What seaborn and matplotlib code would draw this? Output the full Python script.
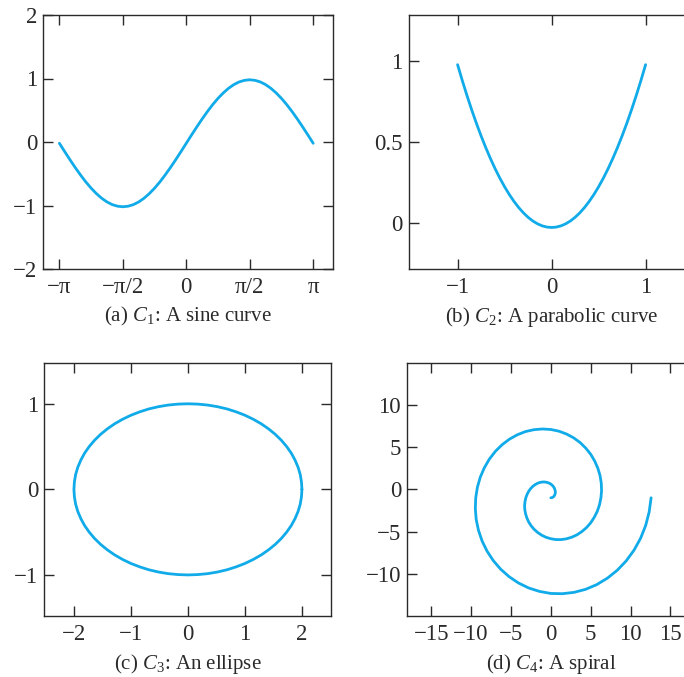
import numpy as np
import matplotlib
matplotlib.use("Agg")
import matplotlib.pyplot as plt
import seaborn as sns

# ---- data ----
# (a) sine curve
sine_x = [-3.142, -3.011, -2.880, -2.749, -2.618, -2.487, -2.356, -2.225, -2.094, -1.963,
          -1.833, -1.702, -1.571, -1.440, -1.309, -1.178, -1.047, -0.916, -0.785, -0.654,
          -0.524, -0.393, -0.262, -0.131, 0.0, 0.131, 0.262, 0.393, 0.524, 0.654,
          0.785, 0.916, 1.047, 1.178, 1.309, 1.440, 1.571, 1.702, 1.833, 1.963,
          2.094, 2.225, 2.356, 2.487, 2.618, 2.749, 2.880, 3.011, 3.142]
sine_y = [-0.020, -0.151, -0.279, -0.403, -0.520, -0.629, -0.727, -0.813, -0.886, -0.944,
          -0.986, -1.011, -1.020, -1.011, -0.986, -0.944, -0.886, -0.813, -0.727, -0.629,
          -0.520, -0.403, -0.279, -0.151, -0.020, 0.111, 0.239, 0.363, 0.480, 0.589,
          0.687, 0.773, 0.846, 0.904, 0.946, 0.971, 0.980, 0.971, 0.946, 0.904,
          0.846, 0.773, 0.687, 0.589, 0.480, 0.363, 0.239, 0.111, -0.020]

# (b) parabolic curve
para_x = [-1.0, -0.95, -0.9, -0.85, -0.8, -0.75, -0.7, -0.65, -0.6, -0.55, -0.5,
          -0.45, -0.4, -0.35, -0.3, -0.25, -0.2, -0.15, -0.1, -0.05, 0.0,
          0.05, 0.1, 0.15, 0.2, 0.25, 0.3, 0.35, 0.4, 0.45, 0.5,
          0.55, 0.6, 0.65, 0.7, 0.75, 0.8, 0.85, 0.9, 0.95, 1.0]
para_y = [0.975, 0.8775, 0.785, 0.6975, 0.615, 0.5375, 0.465, 0.3975, 0.335, 0.2775, 0.225,
          0.1775, 0.135, 0.0975, 0.065, 0.0375, 0.015, -0.0025, -0.015, -0.0225, -0.025,
          -0.0225, -0.015, -0.0025, 0.015, 0.0375, 0.065, 0.0975, 0.135, 0.1775, 0.225,
          0.2775, 0.335, 0.3975, 0.465, 0.5375, 0.615, 0.6975, 0.785, 0.8775, 0.975]

# (c) ellipse
ell_x = [2.000, 1.992, 1.970, 1.932, 1.879, 1.813, 1.732, 1.638, 1.532, 1.414,
         1.286, 1.147, 1.000, 0.845, 0.684, 0.518, 0.347, 0.174, 0.000,
         -0.174, -0.347, -0.518, -0.684, -0.845, -1.000, -1.147, -1.286, -1.414,
         -1.532, -1.638, -1.732, -1.813, -1.879, -1.932, -1.970, -1.992, -2.000,
         -1.992, -1.970, -1.932, -1.879, -1.813, -1.732, -1.638, -1.532, -1.414,
         -1.286, -1.147, -1.000, -0.845, -0.684, -0.518, -0.347, -0.174, 0.000,
         0.174, 0.347, 0.518, 0.684, 0.845, 1.000, 1.147, 1.286, 1.414,
         1.532, 1.638, 1.732, 1.813, 1.879, 1.932, 1.970, 1.992, 2.000]
ell_y = [0.000, 0.087, 0.174, 0.259, 0.342, 0.423, 0.500, 0.574, 0.643, 0.707,
         0.766, 0.819, 0.866, 0.906, 0.940, 0.966, 0.985, 0.996, 1.000,
         0.996, 0.985, 0.966, 0.940, 0.906, 0.866, 0.819, 0.766, 0.707,
         0.643, 0.574, 0.500, 0.423, 0.342, 0.259, 0.174, 0.087, 0.000,
         -0.087, -0.174, -0.259, -0.342, -0.423, -0.500, -0.574, -0.643, -0.707,
         -0.766, -0.819, -0.866, -0.906, -0.940, -0.966, -0.985, -0.996, -1.000,
         -0.996, -0.985, -0.966, -0.940, -0.906, -0.866, -0.819, -0.766, -0.707,
         -0.643, -0.574, -0.500, -0.423, -0.342, -0.259, -0.174, -0.087, 0.000]

# (d) spiral
spiral_x = [0.00, 0.13, 0.25, 0.36, 0.45, 0.52, 0.56, 0.56, 0.52, 0.45, 0.34, 0.19,
            0.00, -0.22, -0.47, -0.75, -1.05, -1.35, -1.67, -1.97, -2.27, -2.54, -2.78, -2.98,
            -3.14, -3.24, -3.29, -3.27, -3.17, -3.01, -2.78, -2.47, -2.09, -1.65, -1.15, -0.60,
            0.00, 0.63, 1.29, 1.95, 2.62, 3.27, 3.89, 4.47, 4.99, 5.44, 5.82, 6.10,
            6.28, 6.36, 6.32, 6.17, 5.89, 5.50, 5.00, 4.38, 3.67, 2.86, 1.97, 1.01,
            0.00, -1.04, -2.10, -3.16, -4.19, -5.18, -6.11, -6.96, -7.71, -8.34, -8.85, -9.21,
            -9.42, -9.47, -9.36, -9.07, -8.62, -8.00, -7.22, -6.30, -5.24, -4.06, -2.78, -1.42,
            0.00, 1.45, 2.91, 4.36, 5.76, 7.09, 8.33, 9.45, 10.43, 11.25, 11.89, 12.33,
            12.57]
spiral_y = [-1.00, -0.98, -0.93, -0.85, -0.73, -0.59, -0.43, -0.25, -0.07, 0.12, 0.30, 0.47,
            0.62, 0.74, 0.82, 0.87, 0.87, 0.82, 0.72, 0.56, 0.35, 0.08, -0.23, -0.60,
            -1.00, -1.44, -1.91, -2.39, -2.89, -3.38, -3.86, -4.32, -4.74, -5.11, -5.43, -5.68,
            -5.85, -5.95, -5.95, -5.86, -5.67, -5.39, -5.00, -4.53, -3.97, -3.32, -2.61, -1.83,
            -1.00, -0.14, 0.74, 1.63, 2.51, 3.35, 4.15, 4.88, 5.54, 6.10, 6.55, 6.89,
            7.09, 7.15, 7.07, 6.85, 6.47, 5.95, 5.29, 4.50, 3.58, 2.56, 1.44, 0.25,
            -1.00, -2.28, -3.58, -4.87, -6.12, -7.32, -8.44, -9.45, -10.34, -11.09, -11.68, -12.09,
            -12.33, -12.36, -12.20, -11.84, -11.28, -10.52, -9.58, -8.47, -7.20, -5.80, -4.28, -2.67,
            -1.00]

# ticks and captions
sine_xticks = [-np.pi, -np.pi / 2, 0, np.pi / 2, np.pi]
sine_xlabels = ["\u2212\u03c0", "\u2212\u03c0/2", "0", "\u03c0/2", "\u03c0"]
sine_yticks = [-2, -1, 0, 1, 2]
sine_ylabels = ["\u22122", "\u22121", "0", "1", "2"]
para_xticks = [-1, 0, 1]
para_xlabels = ["\u22121", "0", "1"]
para_yticks = [0, 0.5, 1]
para_ylabels = ["0", "0.5", "1"]
ell_xticks = [-2, -1, 0, 1, 2]
ell_xlabels = ["\u22122", "\u22121", "0", "1", "2"]
ell_yticks = [-1, 0, 1]
ell_ylabels = ["\u22121", "0", "1"]
spiral_xticks = [-15, -10, -5, 0, 5, 10, 15]
spiral_xlabels = ["\u221215", "\u221210", "\u22125", "0", "5", "10", "15"]
spiral_yticks = [-10, -5, 0, 5, 10]
spiral_ylabels = ["\u221210", "\u22125", "0", "5", "10"]
captions = ["(a) $C_1$: A sine curve", "(b) $C_2$: A parabolic curve",
            "(c) $C_3$: An ellipse", "(d) $C_4$: A spiral"]

# ---- style ----
sns.set_style("ticks")
plt.rcParams["font.family"] = ["Liberation Serif", "DejaVu Serif"]
plt.rcParams["mathtext.fontset"] = "custom"
plt.rcParams["mathtext.rm"] = "Liberation Serif"
plt.rcParams["mathtext.it"] = "Liberation Serif:italic"

ink = "#2a2a2a"
curve = "#10ABE8"
tick_fs = 16.5
cap_fs = 15

fig = plt.figure(figsize=(6.84, 6.77), dpi=100)
W, H = 684, 677


def make_axes(left, right, top, bottom):
    return fig.add_axes([left / W, 1 - bottom / H, (right - left) / W, (bottom - top) / H])


ax_a = make_axes(43.3, 333.3, 15, 269)
ax_b = make_axes(408.7, 694.5, 15, 269)
ax_c = make_axes(44.3, 331, 362.7, 616)
ax_d = make_axes(407.3, 694.4, 362.7, 616)

panels = [
    (ax_a, sine_x, sine_y, (-3.54, 3.64), (-2, 2), sine_xticks, sine_xlabels, sine_yticks, sine_ylabels),
    (ax_b, para_x, para_y, (-1.52, 1.52), (-0.28, 1.28), para_xticks, para_xlabels, para_yticks, para_ylabels),
    (ax_c, ell_x, ell_y, (-2.52, 2.51), (-1.48, 1.48), ell_xticks, ell_xlabels, ell_yticks, ell_ylabels),
    (ax_d, spiral_x, spiral_y, (-18, 18), (-15, 15), spiral_xticks, spiral_xlabels, spiral_yticks, spiral_ylabels),
]

for (ax, xs, ys, xl, yl, xt, xtl, yt, ytl), cap in zip(panels, captions):
    sns.lineplot(x=xs, y=ys, sort=False, estimator=None, ax=ax,
                 color=curve, linewidth=2.0)
    ax.set_xlim(*xl)
    ax.set_ylim(*yl)
    ax.set_xticks(xt)
    ax.set_xticklabels(xtl)
    ax.set_yticks(yt)
    ax.set_yticklabels(ytl)
    ax.tick_params(direction="in", top=True, right=True, length=7.5, width=1.0,
                   colors=ink, labelsize=tick_fs, pad=4.5)
    ax.tick_params(axis="x", pad=5.5)
    for sp in ax.spines.values():
        sp.set_visible(True)
        sp.set_color(ink)
        sp.set_linewidth(1.0)
    ax.set_xlabel(cap, fontsize=cap_fs, color=ink, labelpad=5.5)
    ax.set_ylabel("")

fig.savefig("out.png", dpi=100)
